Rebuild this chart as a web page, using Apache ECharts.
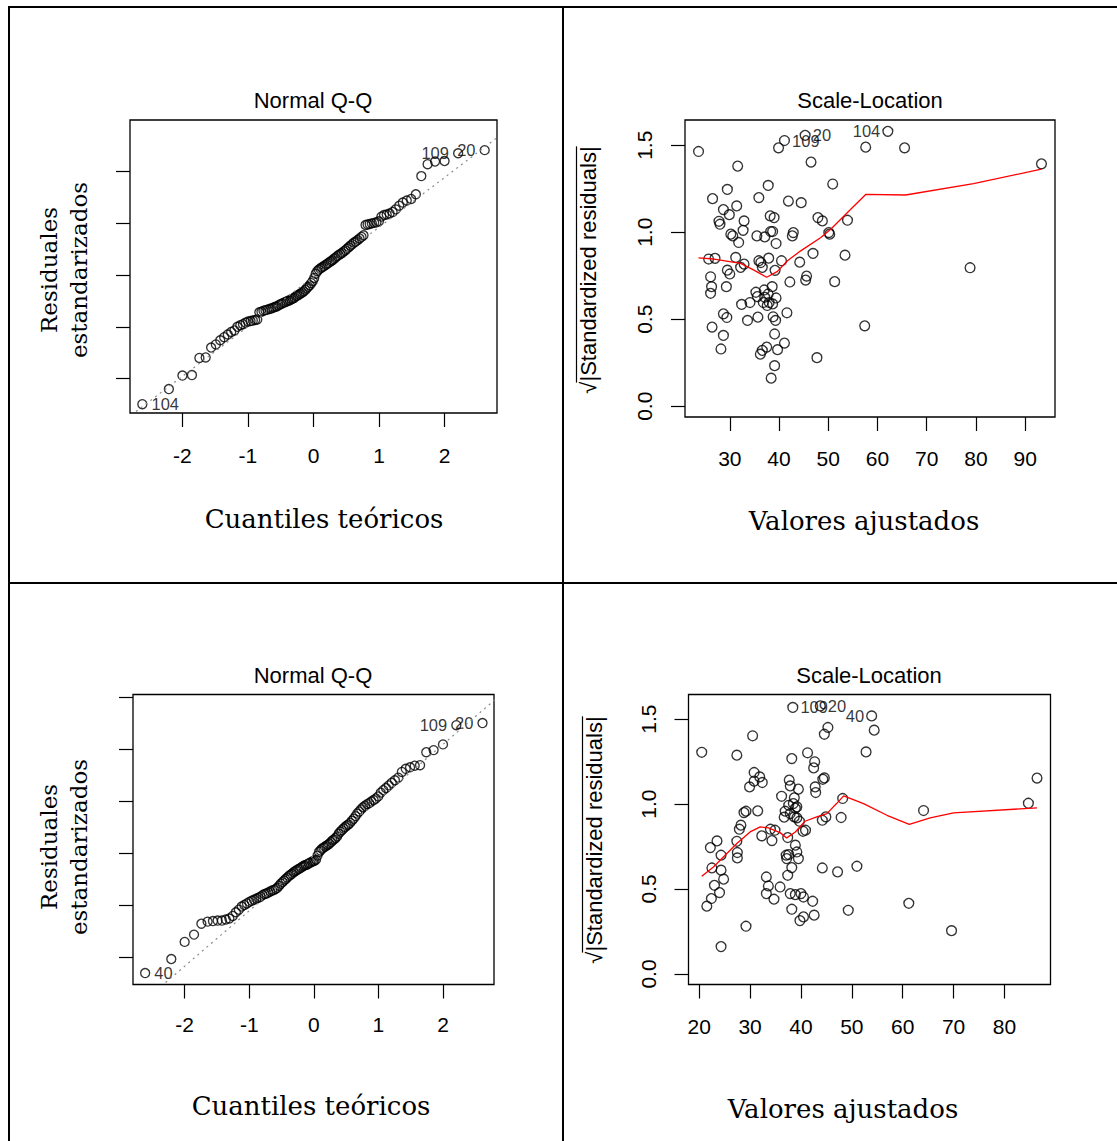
<!DOCTYPE html>
<html>
<head>
<meta charset="utf-8">
<title>Diagnósticos de regresión</title>
<script src="https://cdn.jsdelivr.net/npm/echarts@6/dist/echarts.min.js"></script>
<style>
  html, body { margin: 0; padding: 0; background: #ffffff; }
  #chart { width: 1117px; height: 1141px; }
</style>
</head>
<body>
<div id="chart"></div>
<script>
// ---------- Data ----------
// Theoretical normal quantiles (n = 110), shared by both Q-Q panels
const qqTheoretical = [
  -2.612,-2.207,-2.000,-1.855,-1.741,-1.645,-1.562,-1.490,-1.423,-1.363,
  -1.308,-1.256,-1.207,-1.161,-1.117,-1.076,-1.036,-0.998,-0.961,-0.926,
  -0.891,-0.858,-0.826,-0.794,-0.763,-0.733,-0.703,-0.674,-0.646,-0.618,
  -0.590,-0.563,-0.537,-0.511,-0.485,-0.460,-0.435,-0.410,-0.385,-0.361,
  -0.337,-0.313,-0.289,-0.266,-0.242,-0.219,-0.196,-0.172,-0.149,-0.126,
  -0.103,-0.080,-0.057,-0.034,-0.011, 0.011, 0.034, 0.057, 0.080, 0.103,
   0.126, 0.149, 0.172, 0.196, 0.219, 0.242, 0.266, 0.289, 0.313, 0.337,
   0.361, 0.385, 0.410, 0.435, 0.460, 0.485, 0.511, 0.537, 0.563, 0.590,
   0.618, 0.646, 0.674, 0.703, 0.733, 0.763, 0.794, 0.826, 0.858, 0.891,
   0.926, 0.961, 0.998, 1.036, 1.076, 1.117, 1.161, 1.207, 1.256, 1.308,
   1.363, 1.423, 1.490, 1.562, 1.645, 1.741, 1.855, 2.000, 2.207, 2.612
];

// Model 1: sorted standardized residuals
const qqTopResid = [
  -2.49,-2.20,-1.94,-1.93,-1.60,-1.59,-1.40,-1.34,-1.26,-1.20,
  -1.15,-1.10,-1.07,-1.00,-0.97,-0.95,-0.92,-0.90,-0.89,-0.88,
  -0.87,-0.86,-0.72,-0.71,-0.69,-0.68,-0.67,-0.66,-0.65,-0.635,
  -0.62,-0.61,-0.59,-0.57,-0.555,-0.54,-0.53,-0.515,-0.50,-0.49,
  -0.47,-0.455,-0.44,-0.41,-0.40,-0.38,-0.36,-0.34,-0.32,-0.29,
  -0.26,-0.23,-0.20,-0.16,-0.12,-0.06, 0.02, 0.07, 0.10, 0.12,
   0.14, 0.16, 0.18, 0.20, 0.22, 0.24, 0.26, 0.28, 0.31, 0.33,
   0.36, 0.38, 0.40, 0.42, 0.45, 0.47, 0.50, 0.53, 0.56, 0.59,
   0.62, 0.64, 0.67, 0.70, 0.73, 0.76, 0.96, 0.97, 0.98, 0.99,
   1.00, 1.01, 1.03, 1.12, 1.15, 1.16, 1.18, 1.21, 1.26, 1.33,
   1.39, 1.43, 1.46, 1.55, 1.90, 2.13, 2.18, 2.19, 2.34, 2.40
];
const qqTopLabelIndex = [0, 108, 109];
const qqTopLabelText = ['104', '109', '20'];
const qqTopLineX = [-3.0, 3.0];
const qqTopLineY = [-2.91, 2.83];
const qqTopYTicks = [-2, -1, 0, 1, 2];

// Model 2: sorted standardized residuals
const qqBottomResid = [
  -2.30,-2.03,-1.70,-1.56,-1.35,-1.31,-1.30,-1.29,-1.29,-1.27,
  -1.25,-1.20,-1.13,-1.08,-1.02,-0.99,-0.96,-0.93,-0.91,-0.89,
  -0.87,-0.85,-0.83,-0.80,-0.78,-0.77,-0.75,-0.73,-0.71,-0.70,
  -0.68,-0.66,-0.62,-0.58,-0.55,-0.52,-0.49,-0.46,-0.43,-0.41,
  -0.39,-0.36,-0.34,-0.32,-0.30,-0.29,-0.27,-0.25,-0.23,-0.22,
  -0.21,-0.19,-0.18,-0.16,-0.15,-0.14,-0.12,-0.04, 0.03, 0.06,
   0.09, 0.11, 0.13, 0.15, 0.17, 0.19, 0.22, 0.25, 0.27, 0.30,
   0.33, 0.38, 0.42, 0.45, 0.48, 0.51, 0.54, 0.56, 0.59, 0.63,
   0.67, 0.72, 0.77, 0.81, 0.85, 0.89, 0.92, 0.95, 0.97, 1.00,
   1.03, 1.06, 1.10, 1.17, 1.22, 1.26, 1.31, 1.36, 1.41, 1.46,
   1.57, 1.63, 1.66, 1.69, 1.70, 1.95, 1.99, 2.10, 2.47, 2.51
];
const qqBottomLabelIndex = [0, 108, 109];
const qqBottomLabelText = ['40', '109', '20'];
const qqBottomLineX = [-3.0, 3.0];
const qqBottomLineY = [-3.235, 3.167];
const qqBottomYTicks = [-2, -1, 0, 1, 2, 3];

const qqXTicks = [-2, -1, 0, 1, 2];

// Model 1: fitted values and sqrt(|standardized residuals|)
const slTopFitted = [
  41.1, 45.3, 62.1,
  23.65, 31.6, 39.9, 46.5, 57.6, 65.5, 93.3, 37.8, 50.9, 29.5, 26.5,
  35.9, 41.9, 44.5, 28.7, 31.4, 29.9, 27.8, 28.0, 32.9, 38.2, 39.0,
  47.9, 48.8, 53.9, 32.7, 30.2, 30.6, 31.8, 35.5, 37.1, 38.3, 38.7,
  39.4, 42.7, 42.9, 50.1, 50.3, 25.7, 27.0, 31.2, 32.9, 32.2, 29.5,
  30.0, 36.3, 36.6, 37.9, 40.5, 39.2, 44.2, 46.9, 53.4, 78.8, 26.1,
  26.3, 26.1, 29.3, 42.2, 45.6, 45.4, 51.3, 35.3, 35.6, 37.0, 38.6,
  39.4, 38.0, 36.8, 37.6, 34.1, 32.4, 41.6, 28.7, 29.4, 35.7, 33.6,
  38.8, 39.3, 57.4, 26.4, 28.7, 39.1, 41.1, 28.2, 36.2, 36.6, 37.5,
  39.7, 47.7, 39.1, 38.4, 37.1, 37.8, 38.7, 35.9
];
const slTopValue = [
  1.527, 1.557, 1.580,
  1.464, 1.380, 1.485, 1.403, 1.489, 1.485, 1.393, 1.269, 1.277, 1.246, 1.193,
  1.199, 1.179, 1.170, 1.130, 1.151, 1.101, 1.063, 1.046, 1.065, 1.094, 1.084,
  1.084, 1.065, 1.069, 1.011, 0.989, 0.979, 0.941, 0.979, 0.973, 1.004, 1.004,
  0.935, 0.979, 0.998, 0.998, 0.989, 0.846, 0.850, 0.855, 0.817, 0.798, 0.782,
  0.760, 0.826, 0.798, 0.851, 0.836, 0.781, 0.828, 0.878, 0.868, 0.796, 0.744,
  0.687, 0.649, 0.687, 0.714, 0.748, 0.725, 0.716, 0.655, 0.630, 0.668, 0.687,
  0.622, 0.596, 0.596, 0.579, 0.596, 0.585, 0.537, 0.531, 0.510, 0.512, 0.493,
  0.514, 0.493, 0.462, 0.455, 0.407, 0.415, 0.363, 0.329, 0.299, 0.321, 0.340,
  0.325, 0.279, 0.233, 0.161, 0.626, 0.645, 0.588, 0.836
];
const slTopLabelIndex = [0, 1, 2];
const slTopLabelText = ['109', '20', '104'];
const slTopLabelSide = ['right', 'right', 'left'];
const slTopSmoothX = [23.65, 26.8, 32.2, 34.9, 37.5, 39.7, 41.7, 44.4, 48.5, 50.5, 53.9, 57.6, 65.7, 79.5, 93.3];
const slTopSmoothY = [0.853, 0.846, 0.821, 0.782, 0.741, 0.775, 0.836, 0.893, 0.970, 1.017, 1.113, 1.217, 1.214, 1.279, 1.363];
const slTopXTicks = [30, 40, 50, 60, 70, 80, 90];

// Model 2: fitted values and sqrt(|standardized residuals|)
const slBottomFitted = [
  38.4, 43.8, 53.9,
  20.5, 24.3, 21.5, 22.4, 24.0, 23.0, 24.8, 24.3, 22.5, 24.3, 22.2, 23.5,
  29.2, 30.5, 27.4, 27.5, 27.5, 27.4, 27.9, 28.2, 28.8, 29.2, 31.5, 32.3,
  30.8, 30.8, 29.9, 31.9, 32.4, 33.2, 33.6, 33.2, 34.0, 34.9, 34.3, 34.7,
  35.9, 36.2, 37.6, 36.9, 36.7, 37.7, 37.9, 38.2, 38.5, 39.2, 39.2, 38.7,
  39.5, 39.7, 37.4, 37.1, 37.6, 37.2, 38.9, 39.2, 39.5, 38.2, 37.4, 37.9,
  38.9, 40.0, 40.5, 38.2, 39.8, 40.5, 42.3, 42.6, 41.3, 42.7, 42.5, 44.3,
  44.6, 42.8, 42.9, 44.6, 45.3, 40.4, 40.9, 44.2, 44.9, 47.9, 48.2, 44.2,
  47.2, 51.0, 49.3, 52.8, 54.4, 61.2, 64.1, 69.6, 84.7, 86.4, 38.7, 38.9,
  37.9
];
const slBottomValue = [
  1.569, 1.578, 1.519,
  1.305, 0.161, 0.399, 0.444, 0.479, 0.522, 0.558, 0.611, 0.624, 0.699, 0.744, 0.783,
  0.281, 1.402, 1.288, 0.683, 0.715, 0.781, 0.852, 0.876, 0.950, 0.958, 0.960, 0.813,
  1.186, 1.135, 1.101, 1.160, 1.127, 0.571, 0.518, 0.473, 0.852, 0.846, 0.785, 0.440,
  0.512, 1.046, 0.993, 0.958, 0.923, 1.141, 1.107, 1.268, 1.003, 0.984, 0.919, 0.925,
  1.088, 0.899, 0.803, 0.699, 0.703, 0.679, 0.758, 0.718, 0.679, 0.626, 0.581, 0.473,
  0.467, 0.473, 0.453, 0.381, 0.314, 0.336, 0.428, 0.346, 1.302, 1.249, 1.213, 1.146,
  1.154, 1.101, 1.068, 1.411, 1.451, 0.840, 0.846, 0.905, 0.925, 0.921, 1.033, 0.624,
  0.601, 0.634, 0.375, 1.307, 1.435, 0.416, 0.962, 0.255, 1.005, 1.153, 1.037, 0.975,
  0.944
];
const slBottomLabelIndex = [0, 1, 2];
const slBottomLabelText = ['109', '20', '40'];
const slBottomLabelSide = ['right', 'right', 'left'];
const slBottomSmoothX = [20.5, 22.8, 27.4, 30.0, 32.0, 33.6, 35.9, 37.2, 38.9, 40.8, 43.1, 45.1, 47.0, 48.4, 52.3, 56.9, 61.3, 65.4, 70.0, 86.4];
const slBottomSmoothY = [0.575, 0.630, 0.768, 0.836, 0.866, 0.860, 0.832, 0.801, 0.836, 0.899, 0.925, 0.944, 1.003, 1.048, 1.003, 0.934, 0.880, 0.919, 0.948, 0.978];
const slBottomXTicks = [20, 30, 40, 50, 60, 70, 80];

const slYTicks = [0, 0.5, 1.0, 1.5];

// ---------- Helpers ----------
const SANS = "'Liberation Sans', Arial, Helvetica, sans-serif";
const SERIF = "'DejaVu Serif', serif";

function pairs(xs, ys) { return xs.map((x, i) => [x, ys[i]]); }

function labelledPoints(xs, ys, idx, texts, sides, dist) {
  return xs.map((x, i) => {
    const k = idx.indexOf(i);
    const item = { value: [x, ys[i]] };
    if (k >= 0) {
      item.label = {
        show: true,
        formatter: texts[k],
        position: sides ? sides[k] : (x < 0 ? 'right' : 'left'),
        distance: dist,
        color: '#000',
        textBorderWidth: 0,
        textShadowBlur: 0,
        fontSize: 16.5,
        fontFamily: SANS
      };
    }
    return item;
  });
}

function xAxis(grid, min, max, ticks, margin) {
  return {
    type: 'value', gridIndex: grid, min: min, max: max,
    axisLine: { show: false, onZero: false },
    splitLine: { show: false },
    axisTick: { show: true, length: 14, lineStyle: { color: '#000', width: 1.2 }, customValues: ticks },
    axisLabel: { show: true, customValues: ticks, margin: margin, color: '#000',
                 fontSize: 21, fontFamily: SANS, formatter: v => String(v) }
  };
}

function yAxis(grid, min, max, ticks, showLabels) {
  return {
    type: 'value', gridIndex: grid, min: min, max: max,
    axisLine: { show: false, onZero: false },
    splitLine: { show: false },
    axisTick: { show: true, length: 14, lineStyle: { color: '#000', width: 1.2 }, customValues: ticks },
    axisLabel: { show: showLabels, customValues: ticks, rotate: 90, margin: 30, color: '#000',
                 fontSize: 21, fontFamily: SANS, formatter: v => v.toFixed(1) }
  };
}

function points(axis, data, size) {
  return {
    type: 'scatter', xAxisIndex: axis, yAxisIndex: axis, data: data,
    symbol: 'circle', symbolSize: size, silent: true,
    itemStyle: { color: 'rgba(0,0,0,0)', borderColor: '#000', borderWidth: 1.35 },
    emphasis: { disabled: true }
  };
}

function line(axis, data, color, type, width) {
  return {
    type: 'line', xAxisIndex: axis, yAxisIndex: axis, data: data,
    symbol: 'none', showSymbol: false, clip: true, silent: true,
    lineStyle: { color: color, width: width, type: type },
    emphasis: { disabled: true }
  };
}

function text(x, y, str, font, size, rot, extra) {
  return Object.assign({
    type: 'text', x: x, y: y, rotation: rot || 0, silent: true,
    style: { text: str, fill: '#000', fontFamily: font, fontSize: size,
             align: 'center', verticalAlign: 'middle' }
  }, extra || {});
}

function bar(x, y, w, h) {
  return { type: 'rect', silent: true, shape: { x: x, y: y, width: w, height: h }, style: { fill: '#000' } };
}

// width of the square-root label, for the radical's overbar
const measureCtx = document.createElement('canvas').getContext('2d');
measureCtx.font = "22px 'Liberation Sans'";
const sqrtLabel = '\u221A|Standardized residuals|';
const sqrtLabelW = measureCtx.measureText(sqrtLabel).width;
const sqrtSignW = measureCtx.measureText('\u221A').width;

function radicalBar(cx, cy) {
  return {
    type: 'line', silent: true,
    shape: { x1: cx - 11.5, y1: cy - sqrtLabelW / 2, x2: cx - 11.5, y2: cy + sqrtLabelW / 2 - sqrtSignW + 1 },
    style: { stroke: '#000', lineWidth: 1.2 }
  };
}

// ---------- Chart ----------
const chart = echarts.init(document.getElementById('chart'), null, { renderer: 'svg' });

const gridStyle = { show: true, borderColor: '#000', borderWidth: 1.3, backgroundColor: 'transparent',
                    containLabel: false, outerBoundsMode: 'none' };

chart.setOption({
  animation: false,
  backgroundColor: '#ffffff',
  grid: [
    Object.assign({ left: 130, top: 120, width: 367, height: 293 }, gridStyle),
    Object.assign({ left: 685, top: 120, width: 370, height: 297 }, gridStyle),
    Object.assign({ left: 133, top: 694.5, width: 361, height: 290 }, gridStyle),
    Object.assign({ left: 688.5, top: 694.5, width: 362, height: 290 }, gridStyle)
  ],
  xAxis: [
    xAxis(0, -2.80, 2.80, qqXTicks, 32),
    xAxis(1, 20.9, 96.05, slTopXTicks, 31),
    xAxis(2, -2.80, 2.79, qqXTicks, 29),
    xAxis(3, 17.9, 89.05, slBottomXTicks, 31)
  ],
  yAxis: [
    yAxis(0, -2.66, 2.98, qqTopYTicks, false),
    yAxis(1, -0.062, 1.645, slYTicks, true),
    yAxis(2, -2.52, 3.06, qqBottomYTicks, false),
    yAxis(3, -0.062, 1.645, slYTicks, true)
  ],
  series: [
    points(0, labelledPoints(qqTheoretical, qqTopResid, qqTopLabelIndex, qqTopLabelText, null, 4), 9),
    line(0, pairs(qqTopLineX, qqTopLineY), '#8a8a8a', [2, 4], 1.2),
    points(1, labelledPoints(slTopFitted, slTopValue, slTopLabelIndex, slTopLabelText, slTopLabelSide, 2), 9.8),
    line(1, pairs(slTopSmoothX, slTopSmoothY), '#ff0000', 'solid', 1.3),
    points(2, labelledPoints(qqTheoretical, qqBottomResid, qqBottomLabelIndex, qqBottomLabelText, null, 4), 9),
    line(2, pairs(qqBottomLineX, qqBottomLineY), '#8a8a8a', [2, 4], 1.2),
    points(3, labelledPoints(slBottomFitted, slBottomValue, slBottomLabelIndex, slBottomLabelText, slBottomLabelSide, 2), 9.8),
    line(3, pairs(slBottomSmoothX, slBottomSmoothY), '#ff0000', 'solid', 1.3)
  ],
  graphic: [
    // table rules
    bar(8, 6, 1109, 2),
    bar(8, 6, 2, 1135),
    bar(562, 6, 2, 1135),
    bar(8, 582, 1109, 2),
    // panel titles
    text(313, 100, 'Normal Q-Q', SANS, 22),
    text(870, 100, 'Scale-Location', SANS, 22),
    text(313, 675, 'Normal Q-Q', SANS, 22),
    text(869, 675, 'Scale-Location', SANS, 22),
    // x axis titles
    text(324, 519, 'Cuantiles teóricos', SERIF, 26),
    text(864, 521, 'Valores ajustados', SERIF, 26),
    text(311, 1106, 'Cuantiles teóricos', SERIF, 26),
    text(843, 1109, 'Valores ajustados', SERIF, 26),
    // y axis titles
    text(64, 270, 'Residuales\nestandarizados', SERIF, 23, Math.PI / 2, {}),
    text(64, 847, 'Residuales\nestandarizados', SERIF, 23, Math.PI / 2, {}),
    text(588, 270, sqrtLabel, SANS, 22, Math.PI / 2),
    text(594, 840, sqrtLabel, SANS, 22, Math.PI / 2),
    radicalBar(588, 270),
    radicalBar(594, 840)
  ].map(g => {
    if (g.style && g.style.text && g.style.text.indexOf('\n') >= 0) g.style.lineHeight = 30;
    return g;
  })
});
</script>
</body>
</html>
